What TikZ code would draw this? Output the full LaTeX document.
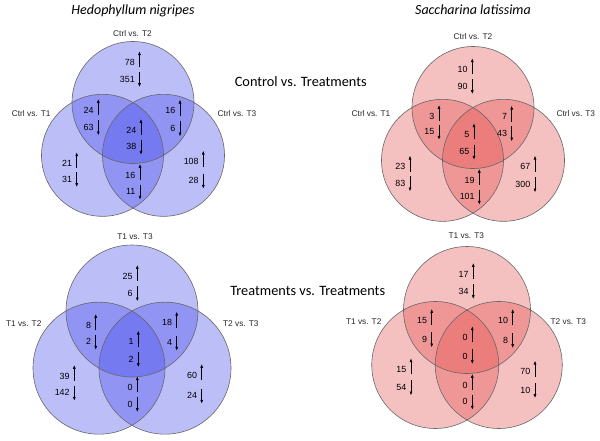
\documentclass[tikz,border=0pt]{standalone}
\usepackage{fontspec}
\setmainfont{Liberation Sans}
\newfontfamily\calibri{Carlito}
\usetikzlibrary{arrows.meta}
\definecolor{vennblue}{RGB}{70,75,235}
\definecolor{vennred}{RGB}{228,80,80}
\begin{document}
\begin{tikzpicture}[x=1pt,y=-1pt,
  num/.style={font=\fontsize{8.9}{10}\selectfont,anchor=east,inner sep=0pt},
  lbl/.style={font=\fontsize{8.3}{10}\selectfont,text=black!85},
  head/.style={font=\calibri\fontsize{14.3}{16}\selectfont,anchor=base},
  updn/.style={-{Latex[length=3.8pt,width=3pt]},line width=0.65pt},
  ring/.style={draw=black!60,line width=0.6pt}]
\useasboundingbox (0,0) rectangle (600,440);

% three circles per diagram: top centre, radius, colour
\foreach \tx/\ty/\r/\col in {133/102.5/61/vennblue, 473/107.5/61/vennred,
    132/311/66/vennblue, 467/310/63.5/vennred}{
  \fill[\col,fill opacity=0.36] (\tx,\ty) circle (\r);
  \fill[\col,fill opacity=0.36] (\tx-\r/2,\ty+0.866*\r) circle (\r);
  \fill[\col,fill opacity=0.36] (\tx+\r/2,\ty+0.866*\r) circle (\r);
  \draw[ring] (\tx,\ty) circle (\r);
  \draw[ring] (\tx-\r/2,\ty+0.866*\r) circle (\r);
  \draw[ring] (\tx+\r/2,\ty+0.866*\r) circle (\r);
}

% titles
\node[head,font=\calibri\itshape\fontsize{14}{16}\selectfont] (hntitle) at (133,14) {Hedophyllum nigripes};
\node[head,font=\calibri\itshape\fontsize{14}{16}\selectfont] (sltitle) at (473,14) {Saccharina latissima};
\node[head] (ctrltitle) at (300.8,86) {Control vs. Treatments};
\node[head] (trttitle) at (307.7,295.7) {Treatments vs. Treatments};

% set labels
\node[lbl] (hc2) at (132.5,33.3) {Ctrl vs. T2};
\node[lbl] (hc1) at (31.2,113.3) {Ctrl vs. T1};
\node[lbl] (hc3) at (237,113.3) {Ctrl vs. T3};
\node[lbl] (sc2) at (473,36.7) {Ctrl vs. T2};
\node[lbl] (sc1) at (371,113.3) {Ctrl vs. T1};
\node[lbl] (sc3) at (575.8,113.3) {Ctrl vs. T3};
\node[lbl] (ht13) at (135,236.7) {T1 vs. T3};
\node[lbl] (ht12) at (23.7,323.3) {T1 vs. T2};
\node[lbl] (ht23) at (240.8,323.3) {T2 vs. T3};
\node[lbl] (st13) at (466.3,236) {T1 vs. T3};
\node[lbl] (st12) at (363.7,321.7) {T1 vs. T2};
\node[lbl] (st23) at (568.3,321.7) {T2 vs. T3};

% up / down counts: name/arrow x/up y/down y/up/down
\foreach \nm/\ax/\yu/\yd/\u/\d in {
    hcT/139.5/62.3/79/78/351, hcTL/98.3/110/127.3/24/63,
    hcTR/180/110.7/128.3/16/6, hcC/141/130/146.7/24/38,
    hcL/76.7/163.3/179/21/31, hcB/140/175/191.7/16/11,
    hcR/203.3/161.7/180.7/108/28,
    scT/472.3/69.3/86/10/90, scTL/439/116/131.7/3/15,
    scTR/511.7/116.7/133.3/7/43, scC/474/134.3/151.7/5/65,
    scL/410/166.7/183.3/23/83, scB/479.3/180/196.7/19/101,
    scR/535/166.7/184.3/67/300,
    htT/137.3/276/293.3/25/6, htTL/95.7/325/341.7/8/2,
    htTR/176.7/322.7/342.7/18/4, htC/138.3/341.7/359/1/2,
    htL/74.3/376/392.7/39/142, htB/137.3/387.3/404/0/0,
    htR/201.7/375/395.7/60/24,
    stT/473.3/274/291/17/34, stTL/431.7/320/339.3/15/9,
    stTR/512.7/320/340/10/8, stC/472.3/337.3/356/0/0,
    stL/411/369.3/387.3/15/54, stB/472.3/385/401.7/0/0,
    stR/535/371.7/390/70/10}{
  \node[num] (\nm u) at (\ax-4.5,\yu) {\u};
  \node[num] (\nm d) at (\ax-4.5,\yd) {\d};
  \draw[updn] (\ax,\yu+5) -- (\ax,\yu-11);
  \draw[updn] (\ax,\yd-7) -- (\ax,\yd+8);
}
\end{tikzpicture}
\end{document}
